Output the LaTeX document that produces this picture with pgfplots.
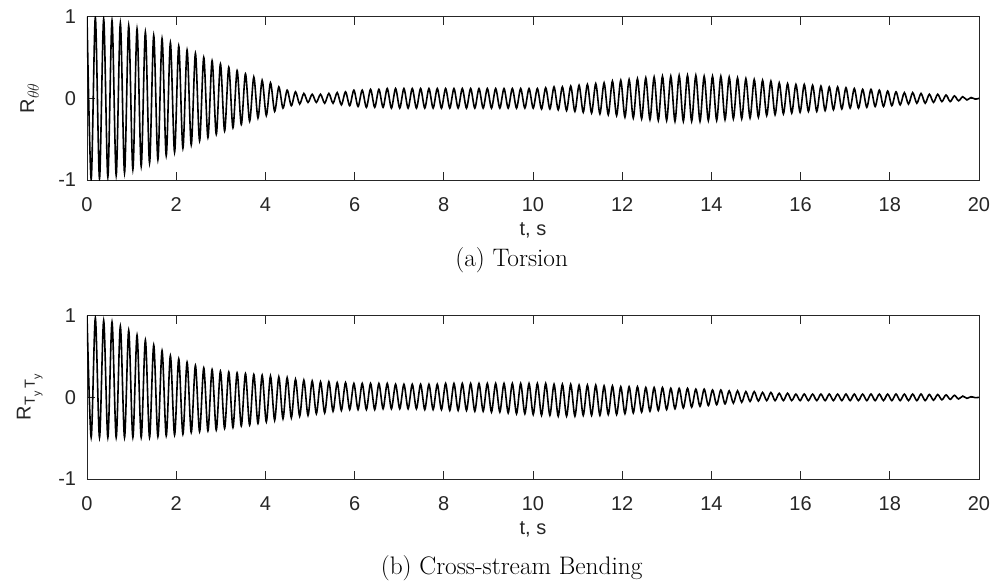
\documentclass[border=0pt]{standalone}
\usepackage{pgfplots}
\pgfplotsset{compat=1.18}
\usepackage{pgfplotstable}
\usepackage{fontspec}
\newfontfamily\arial{Liberation Sans}
\definecolor{axgray}{rgb}{0.15,0.15,0.15}

\pgfplotstableread{
t a b
0 1.00 1.00
0.0935 -0.99 -0.49
0.187 0.99 0.97
0.2805 -0.98 -0.49
0.374 0.97 0.94
0.4675 -0.96 -0.49
0.561 0.95 0.92
0.6545 -0.94 -0.49
0.748 0.92 0.87
0.8415 -0.91 -0.49
0.935 0.89 0.82
1.0285 -0.87 -0.49
1.122 0.85 0.76
1.2155 -0.83 -0.49
1.309 0.81 0.70
1.4025 -0.79 -0.49
1.496 0.77 0.64
1.5895 -0.75 -0.48
1.683 0.73 0.57
1.7765 -0.70 -0.47
1.870 0.68 0.51
1.9635 -0.66 -0.46
2.057 0.64 0.47
2.1505 -0.61 -0.45
2.244 0.59 0.43
2.3375 -0.57 -0.43
2.431 0.55 0.39
2.5245 -0.52 -0.42
2.618 0.50 0.36
2.7115 -0.48 -0.41
2.805 0.46 0.34
2.8985 -0.44 -0.40
2.992 0.42 0.32
3.0855 -0.40 -0.38
3.179 0.38 0.31
3.2725 -0.36 -0.37
3.366 0.34 0.30
3.4595 -0.32 -0.35
3.553 0.30 0.29
3.6465 -0.28 -0.34
3.740 0.26 0.28
3.8335 -0.24 -0.32
3.927 0.22 0.27
4.0205 -0.21 -0.30
4.114 0.19 0.26
4.2075 -0.16 -0.28
4.301 0.14 0.25
4.3945 -0.12 -0.26
4.488 0.10 0.24
4.5815 -0.09 -0.25
4.675 0.08 0.22
4.7685 -0.07 -0.23
4.862 0.06 0.21
4.9555 -0.05 -0.22
5.049 0.05 0.20
5.1425 -0.05 -0.20
5.236 0.05 0.19
5.3295 -0.06 -0.19
5.423 0.06 0.19
5.5165 -0.06 -0.17
5.610 0.07 0.18
5.7035 -0.08 -0.16
5.797 0.08 0.18
5.8905 -0.09 -0.15
5.984 0.10 0.17
6.0775 -0.10 -0.15
6.171 0.10 0.17
6.2645 -0.11 -0.15
6.358 0.11 0.17
6.4515 -0.11 -0.15
6.545 0.11 0.17
6.6385 -0.11 -0.14
6.732 0.12 0.17
6.8255 -0.12 -0.14
6.919 0.12 0.16
7.0125 -0.12 -0.14
7.106 0.12 0.16
7.1995 -0.12 -0.14
7.293 0.12 0.16
7.3865 -0.12 -0.14
7.480 0.12 0.16
7.5735 -0.12 -0.15
7.667 0.12 0.16
7.7605 -0.12 -0.15
7.854 0.12 0.16
7.9475 -0.12 -0.15
8.041 0.12 0.17
8.1345 -0.12 -0.16
8.228 0.12 0.17
8.3215 -0.12 -0.16
8.415 0.12 0.17
8.5085 -0.12 -0.16
8.602 0.12 0.17
8.6955 -0.12 -0.17
8.789 0.12 0.17
8.8825 -0.12 -0.17
8.976 0.12 0.17
9.0695 -0.12 -0.18
9.163 0.12 0.17
9.2565 -0.12 -0.18
9.350 0.12 0.17
9.4435 -0.12 -0.19
9.537 0.12 0.17
9.6305 -0.12 -0.20
9.724 0.12 0.17
9.8175 -0.12 -0.20
9.911 0.12 0.17
10.0045 -0.12 -0.21
10.098 0.12 0.17
10.1915 -0.13 -0.22
10.285 0.13 0.17
10.3785 -0.13 -0.22
10.472 0.14 0.16
10.5655 -0.14 -0.23
10.659 0.14 0.16
10.7525 -0.15 -0.23
10.846 0.15 0.16
10.9395 -0.16 -0.23
11.033 0.16 0.15
11.1265 -0.17 -0.22
11.220 0.17 0.15
11.3135 -0.18 -0.22
11.407 0.18 0.15
11.5005 -0.19 -0.22
11.594 0.19 0.14
11.6875 -0.20 -0.21
11.781 0.21 0.14
11.8745 -0.21 -0.21
11.968 0.22 0.13
12.0615 -0.23 -0.20
12.155 0.23 0.13
12.2485 -0.24 -0.19
12.342 0.24 0.13
12.4355 -0.25 -0.18
12.529 0.25 0.12
12.6225 -0.26 -0.17
12.716 0.26 0.12
12.8095 -0.27 -0.16
12.903 0.27 0.12
12.9965 -0.27 -0.15
13.090 0.27 0.11
13.1835 -0.28 -0.14
13.277 0.28 0.11
13.3705 -0.28 -0.13
13.464 0.28 0.11
13.5575 -0.28 -0.12
13.651 0.28 0.10
13.7445 -0.28 -0.11
13.838 0.27 0.10
13.9315 -0.27 -0.10
14.025 0.27 0.09
14.1185 -0.27 -0.09
14.212 0.27 0.09
14.3055 -0.26 -0.08
14.399 0.26 0.08
14.4925 -0.25 -0.07
14.586 0.25 0.08
14.6795 -0.25 -0.06
14.773 0.24 0.07
14.8665 -0.24 -0.05
14.960 0.23 0.07
15.0535 -0.23 -0.045
15.147 0.22 0.06
15.2405 -0.21 -0.04
15.334 0.21 0.06
15.4275 -0.20 -0.04
15.521 0.19 0.05
15.6145 -0.19 -0.04
15.708 0.18 0.05
15.8015 -0.18 -0.04
15.895 0.17 0.04
15.9885 -0.17 -0.04
16.082 0.17 0.04
16.1755 -0.16 -0.04
16.269 0.16 0.04
16.3625 -0.16 -0.04
16.456 0.15 0.04
16.5495 -0.15 -0.04
16.643 0.14 0.04
16.7365 -0.14 -0.04
16.830 0.14 0.04
16.9235 -0.13 -0.04
17.017 0.13 0.04
17.1105 -0.12 -0.04
17.204 0.12 0.04
17.2975 -0.12 -0.04
17.391 0.11 0.04
17.4845 -0.11 -0.04
17.578 0.11 0.04
17.6715 -0.10 -0.04
17.765 0.10 0.04
17.8585 -0.10 -0.04
17.952 0.09 0.04
18.0455 -0.09 -0.04
18.139 0.08 0.04
18.2325 -0.08 -0.04
18.326 0.07 0.04
18.4195 -0.07 -0.04
18.513 0.07 0.04
18.6065 -0.06 -0.04
18.700 0.06 0.04
18.7935 -0.06 -0.04
18.887 0.05 0.035
18.9805 -0.05 -0.035
19.074 0.05 0.035
19.1675 -0.04 -0.03
19.261 0.04 0.03
19.3545 -0.04 -0.025
19.448 0.03 0.025
19.5415 -0.03 -0.02
19.635 0.02 0.015
19.7285 -0.02 -0.012
19.822 0.01 0.008
19.9155 -0.01 -0.004
20 0 0
}\data

\pgfplotsset{
  myax/.style={
    scale only axis, width=669pt, height=122.5pt,
    xmin=0, xmax=20, ymin=-1, ymax=1,
    xtick={0,2,4,6,8,10,12,14,16,18,20},
    xticklabels={0,2,4,6,8,10,12,14,16,18,20},
    ytick={-1,0,1}, yticklabels={-1,0,1},
    tick align=inside, major tick length=6pt,
    axis line style={axgray, line width=0.6pt},
    every tick/.style={axgray, line width=0.6pt},
    xticklabel style={font=\arial\fontsize{15}{17}\selectfont, text=axgray, anchor=center, inner sep=0pt, yshift=-18.4pt},
    yticklabel style={font=\arial\fontsize{15}{17}\selectfont, text=axgray, anchor=east, inner sep=0pt, xshift=-8pt},
    every axis x label/.style={at={(rel axis cs:0.5,0)}, anchor=center, yshift=-38pt, font=\arial\fontsize{15}{17}\selectfont, text=axgray},
    every axis y label/.style={at={(rel axis cs:0,0.5)}, anchor=center, xshift=-43pt, rotate=90, font=\arial\fontsize{15}{17}\selectfont, text=axgray},
    xlabel={t, s},
  }
}

\begin{document}
\begin{tikzpicture}
\useasboundingbox (-65.25pt,-81pt) rectangle (679.5pt,359.25pt);
\begin{axis}[myax, name=A, at={(0pt,224.25pt)}, anchor=south west,
  ylabel={R\raisebox{-0.45ex}{\fontsize{12}{14}\selectfont$\theta\theta$}}]
\addplot[black, line width=1.2pt, smooth] table[x=t,y=a]{\data};
\end{axis}
\node[font=\fontsize{19}{22}\selectfont, anchor=center] at ([xshift=-16pt,yshift=-60pt]A.south) {(a) Torsion};

\begin{axis}[myax, name=B, at={(0pt,0pt)}, anchor=south west,
  ylabel={R\raisebox{-0.4ex}{\fontsize{11}{13}\selectfont T\raisebox{-0.7ex}{\fontsize{8}{9}\selectfont y}\,T\raisebox{-0.7ex}{\fontsize{8}{9}\selectfont y}}}]
\addplot[black, line width=1.2pt, smooth] table[x=t,y=b]{\data};
\end{axis}
\node[font=\fontsize{19}{22}\selectfont, anchor=center] at ([xshift=-16pt,yshift=-66.75pt]B.south) {(b) Cross-stream Bending};
\end{tikzpicture}
\end{document}
